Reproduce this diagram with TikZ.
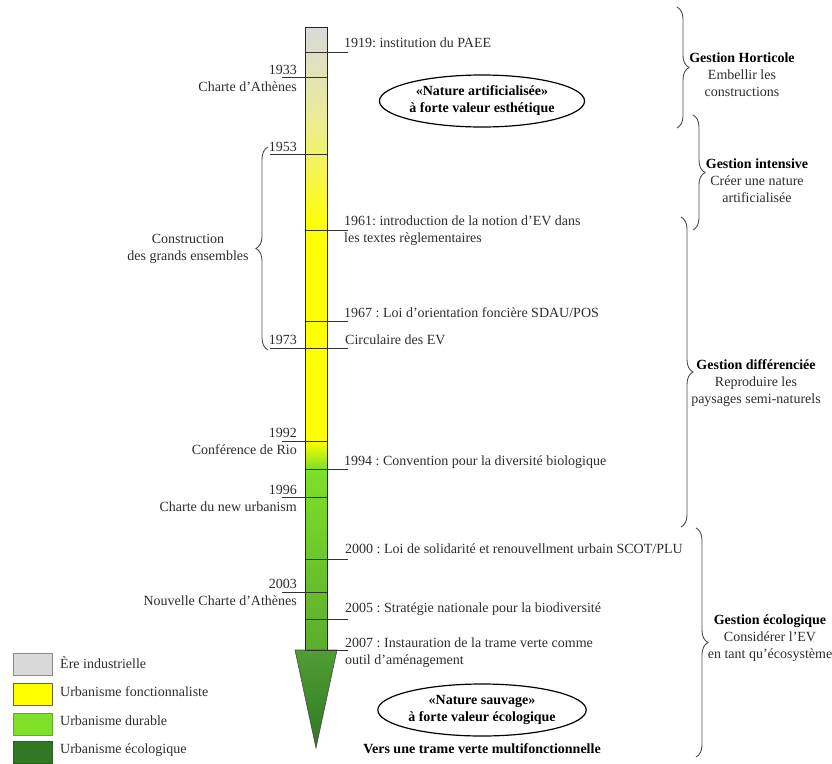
\documentclass[tikz,border=0pt]{standalone}
\usepackage{tikz}
\usepackage{xcolor}
\usepackage{fontspec}
\setmainfont{Liberation Serif}
\frenchspacing
\usetikzlibrary{shapes.geometric, positioning, decorations.pathreplacing}
\definecolor{ereGray}{RGB}{217,217,217}
\definecolor{paleYel}{RGB}{236,236,150}
\definecolor{fonctYel}{RGB}{255,255,0}
\definecolor{durGreen}{RGB}{126,224,40}
\definecolor{durDark}{RGB}{92,172,46}
\definecolor{ecoGreen}{RGB}{48,120,34}
\definecolor{ecoTop}{RGB}{80,158,52}
\definecolor{inkGray}{RGB}{45,45,45}

\begin{document}
\begin{tikzpicture}[x=1pt, y=-1pt,
    txt/.style={font=\fontsize{14}{17}\selectfont, inner sep=0pt, text=inkGray},
    bold/.style={txt, font=\fontsize{14}{17}\selectfont\bfseries, text=black},
    tick/.style={line width=0.9pt, black!80},
    accolade/.style={decorate, decoration={brace, amplitude=12pt}, line width=0.9pt, black!70},
    oval/.style={ellipse, draw, line width=1.2pt, minimum width=198pt, minimum height=52pt,
                 align=center, font=\fontsize{14}{17}\selectfont\bfseries, inner sep=0pt},
    legbox/.style={draw, minimum width=39pt, minimum height=22pt, inner sep=0pt}
  ]
    \useasboundingbox (0,0) rectangle (832,763);

    % the timeline bar
    \shade[top color=ereGray, bottom color=paleYel] (305,27) rectangle (327,120);
    \shade[top color=paleYel, bottom color=fonctYel] (305,120) rectangle (327,230);
    \fill[fonctYel] (305,230) rectangle (327,441);
    \shade[top color=fonctYel, bottom color=durGreen] (305,441) rectangle (327,469);
    \shade[top color=durGreen, bottom color=durDark] (305,469) rectangle (327,650);
    \draw[line width=0.8pt, black!85] (305,650) -- (305,27) -- (327,27) -- (327,650);
    \shade[top color=ecoTop, bottom color=ecoGreen, draw=black!70, line width=0.6pt]
      (295,650) -- (337,650) -- (316,748) -- cycle;

    % year ticks
    \foreach \y in {52,230,321,348,469,559,619,650} {
      \draw[tick] (305,\y) -- (348,\y);
    }
    \foreach \y/\x in {77/282,154/270,348/270,441/282,497/282,592/282} {
      \draw[tick] (\x,\y) -- (327,\y);
    }

    % events on the right of the bar
    \node[txt, anchor=west] (e1919) at (344,43) {1919: institution du PAEE};
    \node[txt, anchor=west, align=left] (e1961) at (344,231)
      {1961: introduction de la notion d’EV dans\\les textes règlementaires};
    \node[txt, anchor=west] (e1967) at (344,313) {1967 : Loi d’orientation foncière SDAU/POS};
    \node[txt, anchor=west] (e1973) at (345,340) {Circulaire des EV};
    \node[txt, anchor=west] (e1994) at (344,462) {1994 : Convention pour la diversité biologique};
    \node[txt, anchor=west] (e2000) at (345,549) {2000 : Loi de solidarité et renouvellment urbain SCOT/PLU};
    \node[txt, anchor=west] (e2005) at (345,609) {2005 : Stratégie nationale pour la biodiversité};
    \node[txt, anchor=west, align=left] (e2007) at (345,653)
      {2007 : Instauration de la trame verte comme\\outil d’aménagement};

    % events on the left of the bar
    \node[txt, anchor=east, align=right] (l1933) at (297,78) {1933\\Charte d’Athènes};
    \node[txt, anchor=east] (l1953) at (297,147) {1953};
    \node[txt, anchor=east] (l1973) at (297,340) {1973};
    \node[txt, anchor=east, align=right] (l1992) at (297,441) {1992\\Conférence de Rio};
    \node[txt, anchor=east, align=right] (l1996) at (297,498) {1996\\Charte du new urbanism};
    \node[txt, anchor=east, align=right] (l2003) at (297,592) {2003\\Nouvelle Charte d’Athènes};

    \draw[accolade] (268,350) -- (268,147);
    \node[txt, align=center] (grands) at (188,249) {Construction\\des grands ensembles};

    % nature ovals
    \node[oval] (artif) at (482,101) {«Nature artificialisée»\\à forte valeur esthétique};
    \node[oval] (sauvage) at (482,710) {«Nature sauvage»\\à forte valeur écologique};
    \node[bold] (vers) at (482,749) {Vers une trame verte multifonctionnelle};

    % management phases
    \draw[accolade] (677,7) -- (677,128);
    \node[txt, align=center] (horti) at (742,75) {\textbf{\textcolor{black}{Gestion Horticole}}\\Embellir les\\constructions};
    \draw[accolade] (693,115) -- (693,230);
    \node[txt, align=center] (intens) at (757,181) {\textbf{\textcolor{black}{Gestion intensive}}\\Créer une nature\\artificialisée};
    \draw[accolade] (681,217) -- (681,527);
    \node[txt, align=center] (differ) at (756,383) {\textbf{\textcolor{black}{Gestion différenciée}}\\Reproduire les\\paysages semi-naturels};
    \draw[accolade] (696,528) -- (696,757);
    \node[txt, align=center] (ecolo) at (770,638) {\textbf{\textcolor{black}{Gestion écologique}}\\Considérer l’EV\\en tant qu’écosystème};

    % legend
    \node[legbox, fill=ereGray, draw=black!45] (kEre) at (32.5,664) {};
    \node[legbox, fill=fonctYel, draw=olive!70!black] (kFonct) at (32.5,694) {};
    \node[legbox, fill=durGreen, draw=durDark] (kDur) at (32.5,724) {};
    \node[legbox, fill=ecoGreen, draw=ecoGreen!80!black] (kEco) at (32.5,752) {};
    \node[txt, anchor=west] (tEre) at (60,663) {Ère industrielle};
    \node[txt, anchor=west] (tFonct) at (60,692) {Urbanisme fonctionnaliste};
    \node[txt, anchor=west] (tDur) at (60,721) {Urbanisme durable};
    \node[txt, anchor=west] (tEco) at (60,750) {Urbanisme écologique};
  \end{tikzpicture}
\end{document}
